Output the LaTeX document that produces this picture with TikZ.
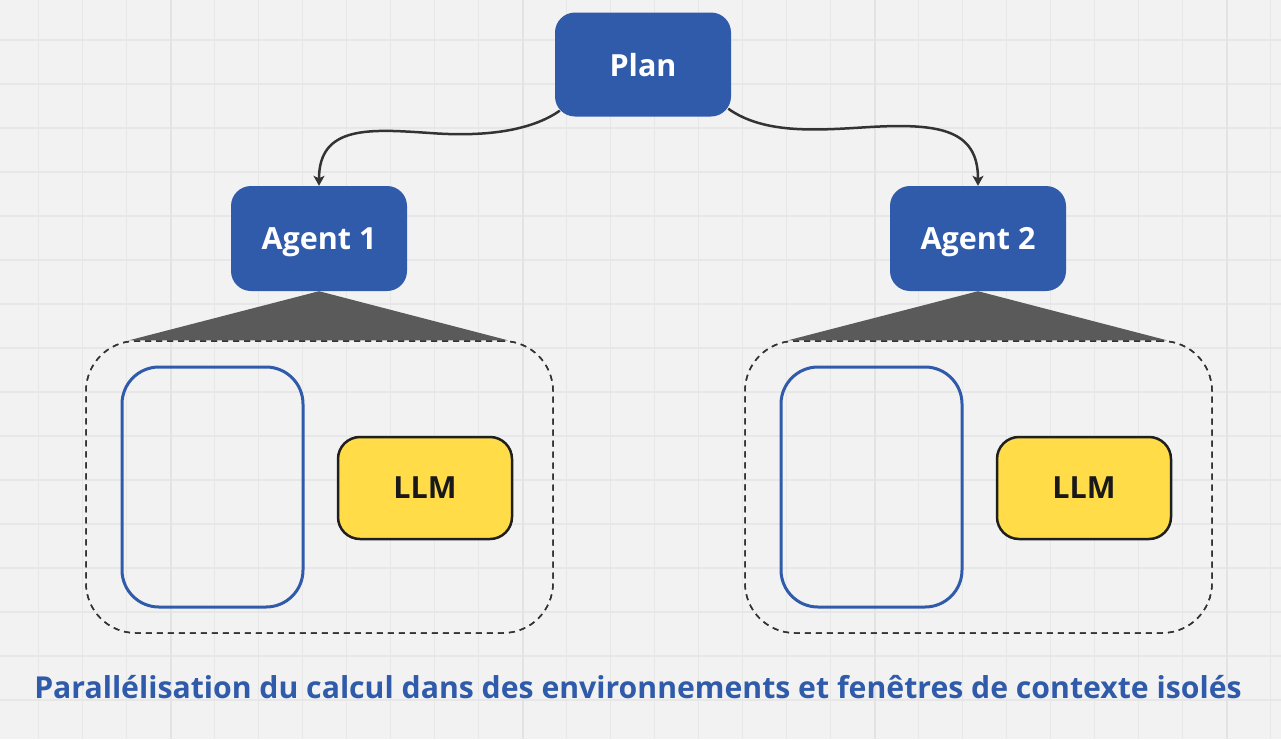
\documentclass[tikz,border=0pt]{standalone}
\usepackage{fontspec}
\setmainfont{Open Sans}
\usetikzlibrary{arrows.meta,calc}
\definecolor{bgc}{HTML}{F2F2F2}
\definecolor{gridc}{HTML}{E7E7E7}
\definecolor{gridm}{HTML}{E3E3E3}
\definecolor{blueA}{HTML}{2F5BAA}
\definecolor{yelA}{HTML}{FFDC48}
\definecolor{darkA}{HTML}{333333}
\definecolor{triA}{HTML}{5A5A5A}
\begin{document}
\begin{tikzpicture}[x=1pt,y=-1pt,
  gridline/.style={gridc,line width=1.5pt},
  gridmajor/.style={gridm,line width=2pt},
  bluebox/.style={rectangle,rounded corners=20pt,fill=blueA,text=white,
    minimum width=176pt,minimum height=104pt,inner sep=0pt,text depth=0pt,
    font=\fontsize{30.5}{34}\selectfont\bfseries},
  ctxbox/.style={rectangle,rounded corners=50pt,draw=darkA,line width=1.5pt,
    dash pattern=on 6pt off 5pt,minimum width=467pt,minimum height=292pt,inner sep=0pt},
  winbox/.style={rectangle,rounded corners=37pt,draw=blueA,line width=3pt,
    minimum width=181pt,minimum height=240pt,inner sep=0pt},
  llmbox/.style={rectangle,rounded corners=22pt,fill=yelA,draw=black!88,line width=2.5pt,
    minimum width=174pt,minimum height=102pt,inner sep=0pt,text=black!90,text depth=0pt,
    font=\fontsize{30.5}{34}\selectfont\bfseries},
  conn/.style={darkA,line width=2.5pt,-{Stealth[length=10pt,width=11pt,inset=2.5pt]}},
  fan/.style={fill=triA},
  caption/.style={text=blueA,font=\fontsize{30.2}{34}\selectfont\bfseries,inner sep=0pt,text depth=0pt}
]
\useasboundingbox (0,0) rectangle (1281,739);
\fill[bgc] (0,0) rectangle (1281,739);
\foreach \k in {0,...,28} \draw[gridline] ({38.5+44*\k},0) -- ({38.5+44*\k},739);
\foreach \k in {0,...,15} \draw[gridline] (0,{40+44*\k}) -- (1281,{40+44*\k});
\foreach \xx in {170.7,522.7,874.7,1226.7} \draw[gridmajor] (\xx,0) -- (\xx,739);

% nodes
\node[bluebox] (plan) at (643,64.5) {Plan};
\node[bluebox,minimum height=105pt] (a1) at (319,238.5) {Agent 1};
\node[bluebox,minimum height=105pt] (a2) at (978,238.5) {Agent 2};

\node[ctxbox] (c1) at (319.5,487) {};
\node[ctxbox] (c2) at (978.5,487) {};

% fans
\fill[fan] (a1.south) -- ($(c1.north west)+(44,0)$) -- ($(c1.north east)+(-46,0)$) -- cycle;
\fill[fan] (a2.south) -- ($(c2.north west)+(44,0)$) -- ($(c2.north east)+(-46,0)$) -- cycle;
\node[ctxbox] at (c1) {};
\node[ctxbox] at (c2) {};

\node[winbox] (w1) at (212.5,487) {};
\node[winbox] (w2) at (871.5,487) {};
\node[llmbox] (l1) at (425,488) {LLM};
\node[llmbox] (l2) at (1084,488) {LLM};

% connectors
\draw[conn] ([shift={(5,-6)}]plan.south west) .. controls (525,135) and (470,136) .. (430,133)
  .. controls (370,129) and (319,125) .. (a1.north);
\draw[conn] ([shift={(-3,-8)}]plan.south east) .. controls (765,135) and (820,130) .. (870,127)
  .. controls (940,123) and (978,130) .. (a2.north);

\node[caption] (cap) at (638,686.5) {Parallélisation du calcul dans des environnements et fenêtres de contexte isolés};
\end{tikzpicture}
\end{document}
